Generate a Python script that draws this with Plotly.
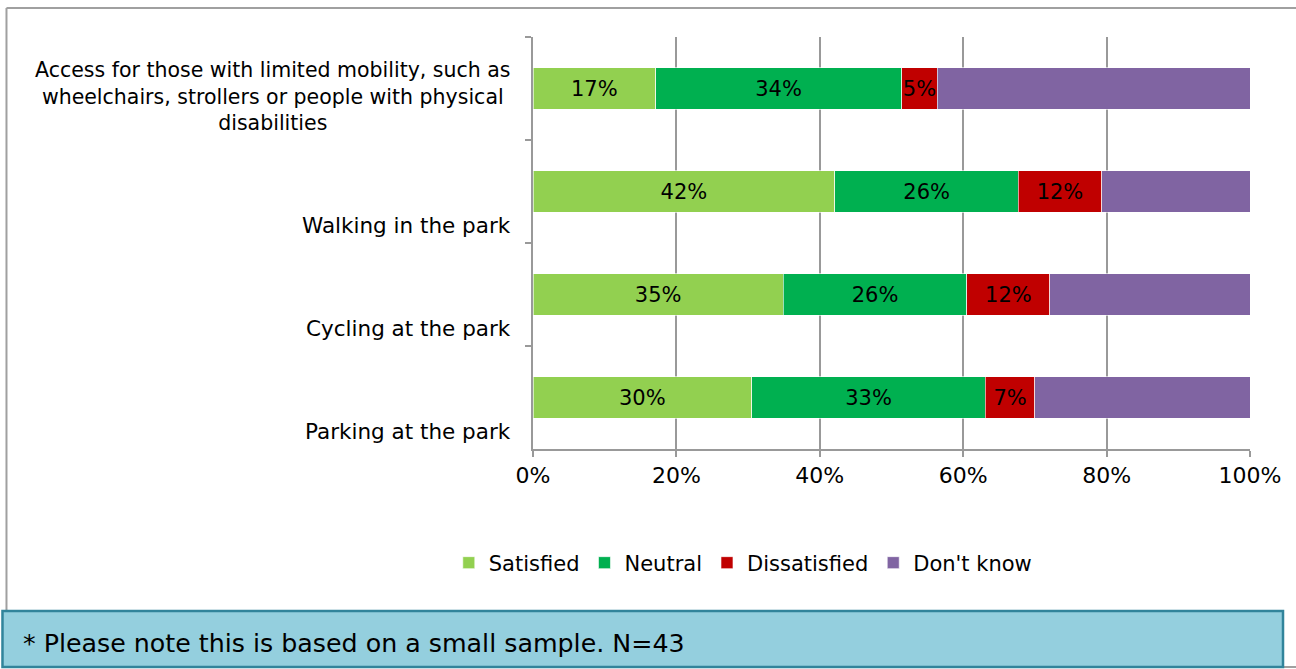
import plotly.graph_objects as go

categories = [
    "Access for those with limited mobility, such as<br>wheelchairs, strollers or people with physical<br>disabilities",
    "Walking in the park",
    "Cycling at the park",
    "Parking at the park",
]
cat_keys = ["Access", "Walking", "Cycling", "Parking"]
series_names = ["Satisfied", "Neutral", "Dissatisfied", "Don't know"]
satisfied = [17.1, 42.1, 34.9, 30.5]
neutral = [34.3, 25.6, 25.6, 32.6]
dissatisfied = [5.0, 11.6, 11.6, 6.9]
dont_know = [43.6, 20.7, 27.9, 30.0]
x_ticks = [0, 20, 40, 60, 80, 100]
x_tick_labels = ["0%", "20%", "40%", "60%", "80%", "100%"]
note_text = "* Please note this is based on a small sample. N=43"

colors = ["#92D050", "#00B050", "#C00000", "#8064A2"]
FONT = "DejaVu Sans"

W, H = 1296, 669
L, R, T, B = 533.3, 1250.0, 37.0, 449.0


def px(xp):
    return (xp - L) / (R - L)


def py(yp):
    return (B - yp) / (B - T)


fig = go.Figure()
for name, vals, col in zip(series_names, [satisfied, neutral, dissatisfied, dont_know], colors):
    show_text = name != "Don't know"
    fig.add_trace(go.Bar(
        name=name, y=cat_keys, x=vals, orientation="h",
        marker=dict(color=col, line=dict(color="rgba(255,255,255,0.6)", width=1)),
        text=[f"{v:.0f}%" for v in vals] if show_text else None,
        textposition="inside" if show_text else "none",
        insidetextanchor="middle",
        constraintext="none",
        textangle=0,
        textfont=dict(family=FONT, size=21, color="black"),
        hoverinfo="skip",
    ))

fig.update_layout(
    barmode="stack",
    bargap=0.6,
    width=W, height=H,
    margin=dict(l=L, r=W - R, t=T, b=H - B, pad=0),
    plot_bgcolor="white", paper_bgcolor="white",
    font=dict(family=FONT, size=20, color="black"),
    showlegend=True,
    legend=dict(orientation="h", x=px(743), y=py(563), xanchor="center", yanchor="middle",
                font=dict(family=FONT, size=21, color="black"), traceorder="normal",
                itemwidth=30, tracegroupgap=0),
)
fig.update_xaxes(
    range=[0, 100], tickvals=x_ticks, ticktext=x_tick_labels,
    showgrid=True, gridcolor="#999999", gridwidth=2,
    showline=True, linecolor="#999999", linewidth=2,
    ticks="outside", ticklen=6, tickcolor="#999999", tickwidth=2,
    tickfont=dict(family=FONT, size=22, color="black"), zeroline=False,
)
fig.update_yaxes(
    type="category", categoryorder="array", categoryarray=cat_keys,
    range=[3.5, -0.5], showticklabels=False,
    showline=True, linecolor="#999999", linewidth=2,
    ticks="outside", ticklen=6, tickcolor="#999999", tickwidth=2,
    tickson="boundaries", showgrid=False,
)

# category labels, bottom-anchored in each band
for i, lab in enumerate(categories):
    fig.add_annotation(
        x=px(513), xref="paper", y=i + 0.5, yref="y",
        text=lab, showarrow=False, xanchor="right", yanchor="bottom",
        align="center" if i == 0 else "right",
        yshift=3, font=dict(family=FONT, size=20.5 if i == 0 else 21.5, color="black"),
    )

# outer chart border
border = dict(color="#A0A0A0", width=2)
fig.add_shape(type="line", xref="paper", yref="paper", x0=px(7), x1=px(1300), y0=py(8), y1=py(8), line=border)
fig.add_shape(type="line", xref="paper", yref="paper", x0=px(7), x1=px(7), y0=py(8), y1=py(612), line=border)
fig.add_shape(type="line", xref="paper", yref="paper", x0=px(1283), x1=px(1300), y0=py(667), y1=py(667), line=border)

# note box
fig.add_shape(type="rect", xref="paper", yref="paper", x0=px(3), x1=px(1283), y0=py(611), y1=py(667),
              fillcolor="#94CFDE", line=dict(color="#31849B", width=2.5))
fig.add_annotation(x=px(22), xref="paper", y=py(643), yref="paper", text=note_text, showarrow=False,
                   xanchor="left", yanchor="middle", font=dict(family=FONT, size=25.3, color="black"))

fig.write_html("out.html", config={"displayModeBar": False},
               post_script="document.body.style.margin='0';document.body.style.overflow='hidden';")
